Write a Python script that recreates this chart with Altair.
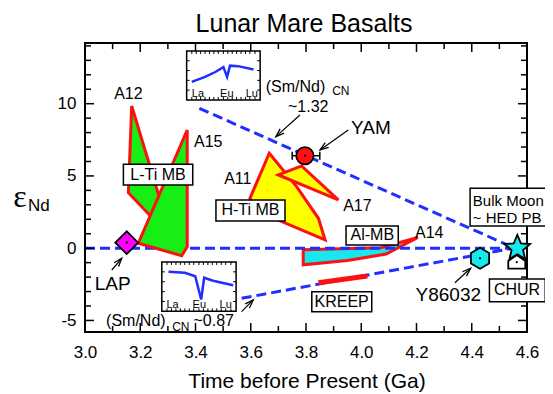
import math
import altair as alt
import pandas as pd

# ---------------- values ----------------
# Low-Ti mare basalt fields (Apollo 12, Apollo 15)
a12_x = [3.169, 3.314, 3.157]
a12_y = [9.84, 0.69, 3.84]
a15_x = [3.370, 3.370, 3.350, 3.193]
a15_y = [8.18, 0.10, -0.52, 0.34]
# High-Ti mare basalt fields (Apollo 11, Apollo 17)
a11_x = [3.667, 3.766, 3.845, 3.869, 3.627, 3.597]
a11_y = [6.57, 4.26, 2.07, 0.57, 2.53, 3.45]
a17_x = [3.700, 3.784, 3.917]
a17_y = [5.07, 5.69, 3.34]
# Aluminous mare basalts (Apollo 14)
a14_x = [3.79, 4.07, 4.205, 4.09, 3.95, 3.79]
a14_y = [-0.10, 0.03, 0.75, -0.40, -0.85, -1.15]
# KREEP
kreep_x = [3.845, 4.022]
kreep_y = [-2.39, -1.92]

# Nd evolution lines
line_names = ["CHUR", "Sm/Nd 1.32", "Sm/Nd 0.87"]
line_x0 = [3.0, 3.414, 3.567]
line_y0 = [0.0, 9.68, -3.47]
line_x1 = [4.55, 4.55, 4.55]
line_y1 = [0.0, 0.05, 0.0]

# samples
lap_age, lap_eps = 3.151, 0.38
yam_age, yam_eps = 3.796, 6.40
yam_age_lo, yam_age_hi = 3.750, 3.850
y86_age, y86_eps = 4.430, -0.70
moon_age, moon_eps = 4.565, 0.0
chur_age, chur_eps = 4.563, -0.97

# REE patterns in the two insets (fraction of inset width / height)
ree_hi_pos = [0.07, 0.25, 0.39, 0.50, 0.55, 0.59, 0.70, 0.91]
ree_hi_val = [0.37, 0.47, 0.57, 0.67, 0.47, 0.70, 0.69, 0.62]
ree_lo_pos = [0.09, 0.31, 0.45, 0.53, 0.57, 0.69, 0.96]
ree_lo_val = [0.80, 0.78, 0.71, 0.24, 0.68, 0.62, 0.53]
ree_labels = ["La", "Eu", "Lu"]
ree_hi_label_pos = [0.154, 0.546, 0.887]
ree_lo_label_pos = [0.145, 0.505, 0.86]
ree_tick_pos = [0.07, 0.13, 0.19, 0.25, 0.31, 0.37, 0.43, 0.5, 0.56, 0.62, 0.68, 0.74, 0.8, 0.86, 0.93]
ree_tick_val = [0.2, 0.4, 0.6, 0.8]

# annotation texts and anchors (data coordinates)
field_labels = ["A12", "A15", "A11", "A17", "A14", "~1.32", "(Sm/Nd)", "~0.87", "(Sm/Nd)"]
field_label_x = [3.157, 3.446, 3.553, 3.986, 4.246, 3.808, 3.762, 3.466, 3.184]
field_label_y = [10.69, 7.33, 4.78, 2.93, 1.02, 9.74, 11.18, -5.02, -5.02]
sub_labels = ["CN", "CN"]
sub_label_x = [3.926, 3.347]
sub_label_y = [10.89, -5.43]
sample_labels = ["YAM", "LAP", "Y86032"]
sample_label_x = [4.035, 3.100, 4.315]
sample_label_y = [8.33, -2.46, -3.24]
box_labels = ["L-Ti MB", "H-Ti MB", "Al-MB", "KREEP", "CHUR"]
box_x0 = [3.139, 3.474, 3.945, 3.821, 4.464]
box_x1 = [3.390, 3.724, 4.134, 4.038, 4.666]
box_y0 = [4.37, 1.88, 0.22, -4.39, -3.70]
box_y1 = [5.81, 3.34, 1.54, -3.01, -2.13]
box_text_x = [3.264, 3.599, 4.040, 3.929, 4.564]
box_text_y = [5.09, 2.62, 0.88, -3.70, -2.91]
moon_lines = ["Bulk Moon", "~ HED PB"]
moon_text_x = [4.404, 4.404]
moon_text_y = [3.28, 2.07]
moon_box = [4.394, 4.80, 1.54, 4.15]

# arrows: tail -> head
arrow_tx = [3.778, 3.953, 3.097, 3.567, 4.339]
arrow_ty = [9.22, 8.18, -1.51, -4.39, -2.39]
arrow_hx = [3.691, 3.851, 3.133, 3.609, 4.396]
arrow_hy = [7.72, 6.80, -0.70, -3.58, -1.39]

# axis ticks
x_major = [3.0, 3.2, 3.4, 3.6, 3.8, 4.0, 4.2, 4.4, 4.6]
x_minor = [3.1, 3.3, 3.5, 3.7, 3.9, 4.1, 4.3, 4.5]
y_major = [-5, 0, 5, 10]
y_minor = [-4, -3, -2, -1, 1, 2, 3, 4, 6, 7, 8, 9, 11, 12, 13, 14]

# ---------------- layout / style ----------------
W, H = 442, 289
XD = [3.0, 4.6]
YD = [-5.8, 14.2]
PXX = W / (XD[1] - XD[0])
PXY = H / (YD[1] - YD[0])
inset_hi = (3.368, 3.634, 10.26, 13.65)
inset_lo = (3.278, 3.547, -4.37, -0.955)

FONT = "Liberation Sans"
BLUE = "#1f2fff"
RED = "#ff1010"
GREEN = "#16ee16"
YELLOW = "#ffff00"
CYAN = "#16e8ee"
MAGENTA = "#ff00ff"
STAR = ("M0,-1L0.265,-0.364L0.951,-0.309L0.428,0.139L0.588,0.809L0,0.45"
        "L-0.588,0.809L-0.428,0.139L-0.951,-0.309L-0.265,-0.364Z")
HEXAGON = "M0,-1L0.866,-0.5L0.866,0.5L0,1L-0.866,0.5L-0.866,-0.5Z"
HOUSE = "M-1,0.75L1,0.75L1,-0.15L0,-0.85L-1,-0.15Z"
ARROWHEAD = "M-0.7,2L0,0L0.7,2"

SX = alt.Scale(domain=XD, nice=False, zero=False)
SY = alt.Scale(domain=YD, nice=False, zero=False)
AX = alt.Axis(values=x_major, format=".1f", ticks=False, domain=False, grid=False,
              labelFont=FONT, labelFontSize=17, labelColor="black", labelPadding=12,
              labelFlush=False, title=None, orient="bottom")
AY = alt.Axis(values=y_major, labelExpr="toString(datum.value)", ticks=False, domain=False,
              grid=False, labelFont=FONT, labelFontSize=17, labelColor="black",
              labelPadding=9, labelFlush=False, title=None, orient="left")


def X(f="x"):
    return alt.X(f, type="quantitative", scale=SX, axis=AX)


def Y(f="y"):
    return alt.Y(f, type="quantitative", scale=SY, axis=AY)


def poly_df(name, xs, ys):
    return pd.DataFrame({"poly": name, "i": list(range(len(xs))), "x": xs, "y": ys})


def polygons(df, fill):
    return alt.Chart(df).mark_line(interpolate="linear-closed", fill=fill, stroke=RED,
                                   strokeWidth=3, strokeJoin="miter").encode(
        x=X(), y=Y(), order="i:Q", detail="poly:N")


layers = []

# Al-MB field (under the dashed lines)
layers.append(polygons(poly_df("A14", a14_x, a14_y), CYAN))

# dashed evolution lines
ln = pd.DataFrame({"line": line_names * 2, "i": [0] * 3 + [1] * 3,
                   "x": line_x0 + line_x1, "y": line_y0 + line_y1})
layers.append(alt.Chart(ln).mark_line(color=BLUE, strokeWidth=3, strokeDash=[10, 5]).encode(
    x=X(), y=Y(), order="i:Q", detail="line:N"))

# mare basalt fields
layers.append(polygons(pd.concat([poly_df("A12", a12_x, a12_y), poly_df("A15", a15_x, a15_y)]), GREEN))
layers.append(polygons(pd.concat([poly_df("A11", a11_x, a11_y), poly_df("A17", a17_x, a17_y)]), YELLOW))

# KREEP
layers.append(alt.Chart(pd.DataFrame({"x": kreep_x, "y": kreep_y})).mark_line(
    color=RED, strokeWidth=5).encode(x=X(), y=Y()))

# plot frame
layers.append(alt.Chart(pd.DataFrame({"f": [0]})).mark_rect(
    fill="transparent", stroke="black", strokeWidth=2).encode(
    x=alt.value(0), x2=alt.value(W), y=alt.value(0), y2=alt.value(H)))

# inward ticks on all four sides
for vals, ln_ in [(x_major, 9), (x_minor, 6)]:
    d = pd.DataFrame({"x": vals})
    layers.append(alt.Chart(d).mark_rule(color="black", strokeWidth=1.5).encode(
        x=X(), y=alt.value(H), y2=alt.value(H - ln_)))
    layers.append(alt.Chart(d).mark_rule(color="black", strokeWidth=1.5).encode(
        x=X(), y=alt.value(0), y2=alt.value(ln_)))
for vals, ln_ in [(y_major, 9), (y_minor, 6)]:
    d = pd.DataFrame({"y": vals})
    layers.append(alt.Chart(d).mark_rule(color="black", strokeWidth=1.5).encode(
        y=Y(), x=alt.value(0), x2=alt.value(ln_)))
    layers.append(alt.Chart(d).mark_rule(color="black", strokeWidth=1.5).encode(
        y=Y(), x=alt.value(W), x2=alt.value(W - ln_)))

# insets
tick_dx = 3 / PXX
tick_dy = 3 / PXY
for box, pos, val, lpos, lv in [(inset_hi, ree_hi_pos, ree_hi_val, ree_hi_label_pos, 0.05),
                                (inset_lo, ree_lo_pos, ree_lo_val, ree_lo_label_pos, 0.07)]:
    x0, x1, y0, y1 = box
    layers.append(alt.Chart(pd.DataFrame({"x0": [x0], "x1": [x1], "y0": [y0], "y1": [y1]})).mark_rect(
        fill="white", stroke="black", strokeWidth=1.5).encode(
        x=X("x0"), x2="x1", y=Y("y0"), y2="y1"))
    tx = [x0 + u * (x1 - x0) for u in ree_tick_pos]
    ty = [y0 + v * (y1 - y0) for v in ree_tick_val]
    tdf = pd.DataFrame({"x": tx * 2 + [x0] * len(ty) + [x1 - tick_dx] * len(ty),
                        "x2": tx * 2 + [x0 + tick_dx] * len(ty) + [x1] * len(ty),
                        "y": [y0] * len(tx) + [y1 - tick_dy] * len(tx) + ty * 2,
                        "y2": [y0 + tick_dy] * len(tx) + [y1] * len(tx) + ty * 2})
    layers.append(alt.Chart(tdf).mark_rule(color="black", strokeWidth=1).encode(
        x=X(), x2="x2", y=Y(), y2="y2"))
    idf = pd.DataFrame({"x": [x0 + u * (x1 - x0) for u in pos],
                        "y": [y0 + v * (y1 - y0) for v in val]})
    layers.append(alt.Chart(idf).mark_line(color=BLUE, strokeWidth=2.5).encode(x=X(), y=Y()))
    ldf = pd.DataFrame({"t": ree_labels, "x": [x0 + u * (x1 - x0) for u in lpos],
                        "y": [y0 + lv * (y1 - y0)] * 3})
    layers.append(alt.Chart(ldf).mark_text(font=FONT, fontSize=11, baseline="alphabetic",
                                           color="black").encode(x=X(), y=Y(), text="t:N"))

# boxed labels (drawn over the frame, as in the original)
bdf = pd.DataFrame({"t": box_labels, "x0": box_x0, "x1": box_x1, "y0": box_y0, "y1": box_y1,
                    "x": box_text_x, "y": box_text_y})
layers.append(alt.Chart(bdf).mark_rect(fill="white", stroke="black", strokeWidth=1.5).encode(
    x=X("x0"), x2="x1", y=Y("y0"), y2="y1"))
layers.append(alt.Chart(bdf).mark_text(font=FONT, fontSize=16, color="black").encode(
    x=X(), y=Y(), text="t:N"))
mdf = pd.DataFrame({"x0": [moon_box[0]], "x1": [moon_box[1]], "y0": [moon_box[2]], "y1": [moon_box[3]]})
layers.append(alt.Chart(mdf).mark_rect(fill="white", stroke="black", strokeWidth=1.5).encode(
    x=X("x0"), x2="x1", y=Y("y0"), y2="y1"))
layers.append(alt.Chart(pd.DataFrame({"t": moon_lines, "x": moon_text_x, "y": moon_text_y})).mark_text(
    font=FONT, fontSize=15, align="left", color="black").encode(x=X(), y=Y(), text="t:N"))

# plain labels
layers.append(alt.Chart(pd.DataFrame({"t": field_labels, "x": field_label_x, "y": field_label_y})).mark_text(
    font=FONT, fontSize=16, color="black").encode(x=X(), y=Y(), text="t:N"))
layers.append(alt.Chart(pd.DataFrame({"t": sub_labels, "x": sub_label_x, "y": sub_label_y})).mark_text(
    font=FONT, fontSize=12, color="black").encode(x=X(), y=Y(), text="t:N"))
layers.append(alt.Chart(pd.DataFrame({"t": sample_labels, "x": sample_label_x, "y": sample_label_y})).mark_text(
    font=FONT, fontSize=19, color="black").encode(x=X(), y=Y(), text="t:N"))

# arrows
adf = pd.DataFrame({"tx": arrow_tx, "ty": arrow_ty, "hx": arrow_hx, "hy": arrow_hy})
adf["ang"] = [(math.degrees(math.atan2((hx - tx) * PXX, (hy - ty) * PXY)) + 360) % 360
              for tx, ty, hx, hy in zip(arrow_tx, arrow_ty, arrow_hx, arrow_hy)]
layers.append(alt.Chart(adf).mark_rule(color="black", strokeWidth=1.2).encode(
    x=X("tx"), y=Y("ty"), x2="hx", y2="hy"))
layers.append(alt.Chart(adf).mark_point(shape=ARROWHEAD, size=70, filled=False,
                                        stroke="black", strokeWidth=1.3, opacity=1).encode(
    x=X("hx"), y=Y("hy"), angle=alt.Angle("ang:Q", scale=None)))

# YAM error bar
layers.append(alt.Chart(pd.DataFrame({"x0": [yam_age_lo], "x1": [yam_age_hi], "y": [yam_eps]})).mark_rule(
    color="black", strokeWidth=1.5).encode(x=X("x0"), x2="x1", y=Y()))
layers.append(alt.Chart(pd.DataFrame({"x": [yam_age_lo, yam_age_hi], "y": [yam_eps] * 2})).mark_tick(
    orient="vertical", size=8, thickness=1.5, color="black", opacity=1).encode(x=X(), y=Y()))


def marker(xv, yv, shape, size, fill):
    return alt.Chart(pd.DataFrame({"x": [xv], "y": [yv]})).mark_point(
        shape=shape, size=size, filled=True, fill=fill, stroke="black", strokeWidth=1.8,
        opacity=1).encode(x=X(), y=Y())


layers.append(marker(lap_age, lap_eps, "diamond", 520, MAGENTA))
layers.append(marker(yam_age, yam_eps, "circle", 300, RED))
layers.append(marker(y86_age, y86_eps, HEXAGON, 440, CYAN))
layers.append(marker(chur_age, chur_eps, HOUSE, 290, "white"))
layers.append(marker(moon_age, moon_eps, STAR, 720, CYAN))
layers.append(alt.Chart(pd.DataFrame({"x": [lap_age, yam_age, y86_age, chur_age],
                                      "y": [lap_eps, yam_eps, y86_eps, chur_eps]})).mark_point(
    filled=True, color="black", size=5, opacity=1).encode(x=X(), y=Y()))

# titles
layers.append(alt.Chart(pd.DataFrame({"t": ["Lunar Mare Basalts"]})).mark_text(
    font=FONT, fontSize=25, baseline="alphabetic", color="black").encode(
    text="t:N", x=alt.value(219), y=alt.value(-11)))
layers.append(alt.Chart(pd.DataFrame({"t": ["Time before Present (Ga)"]})).mark_text(
    font=FONT, fontSize=21, baseline="alphabetic", color="black").encode(
    text="t:N", x=alt.value(222), y=alt.value(345)))
layers.append(alt.Chart(pd.DataFrame({"t": ["\u03b5"]})).mark_text(
    font="Liberation Serif", fontSize=32, baseline="alphabetic", color="black").encode(
    text="t:N", x=alt.value(-65), y=alt.value(164)))
layers.append(alt.Chart(pd.DataFrame({"t": ["Nd"]})).mark_text(
    font=FONT, fontSize=17, baseline="alphabetic", align="left", color="black").encode(
    text="t:N", x=alt.value(-57), y=alt.value(168)))

chart = alt.layer(*layers).properties(
    width=W, height=H,
    autosize=alt.AutoSizeParams(type="none"),
    padding={"left": 77, "top": 35, "right": 18, "bottom": 60},
    background="white",
).configure_view(strokeWidth=0)

chart.save("out.html", embed_options={"renderer": "svg", "actions": False})
